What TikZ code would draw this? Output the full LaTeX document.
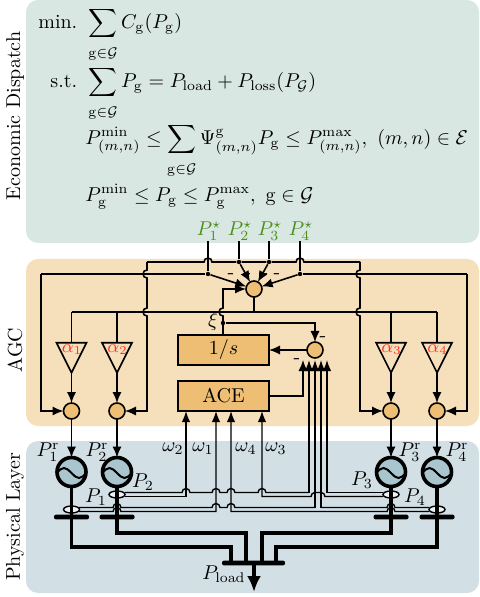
\documentclass[tikz,border=0pt]{standalone}
\usepackage{amsmath}
\usetikzlibrary{arrows.meta,positioning,shapes.geometric}
\definecolor{edpanel}{HTML}{D9E7E2}
\definecolor{agcpanel}{HTML}{F6DFBB}
\definecolor{phypanel}{HTML}{D2E0E6}
\definecolor{blockfill}{HTML}{EDBE73}
\definecolor{genfill}{HTML}{A9C5CE}
\definecolor{setgreen}{HTML}{4D8F1F}
\definecolor{gainred}{HTML}{FF3322}
% bumps where one wire passes over another
\newcommand{\hopr}[2]{-- (#1-4,#2) arc[start angle=180,end angle=0,radius=2pt]}
\newcommand{\hopd}[2]{-- (#1,#2-4) arc[start angle=90,end angle=270,radius=2pt]}
\newcommand{\hopu}[2]{-- (#1,#2+4) arc[start angle=270,end angle=90,radius=2pt]}
\newcommand{\genset}{\rule{0pt}{7pt}\mathrm{g}\in\mathcal{G}}
\tikzset{
  panel/.style={rounded corners=6pt},
  conn/.style={thick},
  arr/.style={thick,-{Latex[length=5.5pt,width=4.6pt]}},
  meas/.style={line width=.7pt},
  measarr/.style={line width=.7pt,-{Latex[length=5.5pt,width=4.2pt]}},
  shaft/.style={line width=1.8pt},
  sumnode/.style={circle,draw,thick,fill=blockfill,minimum size=8pt,inner sep=0pt,outer sep=0pt},
  blocknode/.style={rectangle,draw,thick,fill=blockfill,minimum width=45.5pt,minimum height=15pt,inner sep=0pt,outer sep=0pt},
  dotnode/.style={circle,fill,inner sep=0pt,minimum size=2.2pt},
  gainnode/.style={isosceles triangle,isosceles triangle stretches,shape border rotate=-90,draw,thick,minimum width=15pt,minimum height=15pt,inner sep=0pt,outer sep=0pt},
  gainlabel/.style={text=gainred,font=\small,inner sep=0pt},
  gennode/.style={circle,draw,line width=1.8pt,fill=genfill,minimum size=14.5pt,inner sep=0pt,outer sep=0pt,
    path picture={\draw[line width=1pt] (path picture bounding box.center) ++(-15,1) sin ++(7.5,-5) cos ++(7.5,5) sin ++(7.5,5) cos ++(7.5,-5);}},
  ringnode/.style={ellipse,draw,line width=.7pt,fill=white!55!phypanel,minimum width=8pt,minimum height=3.5pt,inner sep=0pt,outer sep=0pt},
  busnode/.style={rectangle,fill,rounded corners=1pt,minimum width=17.5pt,minimum height=2.4pt,inner sep=0pt,outer sep=0pt},
  minusnode/.style={inner sep=0pt},
  setnode/.style={text=setgreen,inner sep=0pt,anchor=base},
  eqnode/.style={inner sep=0pt,anchor=base west}
}
\begin{document}
\begin{tikzpicture}[x=0.5pt,y=-0.5pt]
  \useasboundingbox (0,0) rectangle (479,597);

  % panels
  \fill[panel,edpanel] (26,0) rectangle (479,243);
  \fill[panel,agcpanel] (26,259) rectangle (479,426);
  \fill[panel,phypanel] (26,441) rectangle (479,593);
  \node[rotate=90] (edname) at (15,116) {Economic Dispatch};
  \node[rotate=90] (agcname) at (15,350) {AGC};
  \node[rotate=90] (phyname) at (15,517) {Physical Layer};

  % dispatch problem
  \node[eqnode] (minl) at (38,29) {min.};
  \node[eqnode] (minf) at (88,29) {$\displaystyle\sum_{\genset} C_{\mathrm{g}}(P_{\mathrm{g}})$};
  \node[eqnode] (stl) at (50,88) {s.t.};
  \node[eqnode] (stf) at (88,88) {$\displaystyle\sum_{\genset} P_{\mathrm{g}} = P_{\mathrm{load}} + P_{\mathrm{loss}}(P_{\mathcal{G}})$};
  \node[eqnode] (lnf) at (85,145) {$\displaystyle P_{(m,n)}^{\mathrm{min}} \leq \sum_{\genset} \Psi_{(m,n)}^{\mathrm{g}} P_{\mathrm{g}} \leq P_{(m,n)}^{\mathrm{max}},\ (m,n)\in\mathcal{E}$};
  \node[eqnode] (gnf) at (85,202) {$\displaystyle P_{\mathrm{g}}^{\mathrm{min}} \leq P_{\mathrm{g}} \leq P_{\mathrm{g}}^{\mathrm{max}},\ \mathrm{g}\in\mathcal{G}$};

  % set points
  \node[setnode] (p1s) at (209,236) {$P_1^\star$};
  \node[setnode] (p2s) at (240,236) {$P_2^\star$};
  \node[setnode] (p3s) at (270,236) {$P_3^\star$};
  \node[setnode] (p4s) at (301,236) {$P_4^\star$};

  % AGC blocks
  \node[sumnode] (st) at (254,289) {};
  \node[sumnode] (sc) at (315,350) {};
  \node[blocknode] (is) at (223.5,350) {$1/s$};
  \node[blocknode] (ace) at (223.5,396) {ACE};
  \node[gainnode] (g1) at (71.5,352) {};
  \node[gainnode] (g2) at (117,352) {};
  \node[gainnode] (g3) at (391,352) {};
  \node[gainnode] (g4) at (437,352) {};
  \node[gainlabel] (a1) at (72,350) {$\alpha_1$};
  \node[gainlabel] (a2) at (117.5,350) {$\alpha_2$};
  \node[gainlabel] (a3) at (391.5,350) {$\alpha_3$};
  \node[gainlabel] (a4) at (437.5,350) {$\alpha_4$};
  \node[sumnode] (s1) at (71.5,411) {};
  \node[sumnode] (s2) at (117,411) {};
  \node[sumnode] (s3) at (391,411) {};
  \node[sumnode] (s4) at (437,411) {};

  \node[dotnode] (d1) at (208,274) {};
  \node[dotnode] (d2) at (239,262) {};
  \node[dotnode] (d3) at (269,262) {};
  \node[dotnode] (d4) at (300,274) {};
  \node[dotnode] (dx) at (223,323) {};
  \node (xi) at (213,322) {$\xi$};

  \coordinate (k1) at (147,262);
  \coordinate (k2) at (360,262);
  \coordinate (k3) at (41,274);
  \coordinate (k4) at (467,274);
  \coordinate (r1) at (71.5,312);
  \coordinate (r2) at (117,312);
  \coordinate (r3) at (391,312);
  \coordinate (r4) at (437,312);
  \coordinate (i1) at (223,335);
  \coordinate (i2) at (223,289);
  \coordinate (t1) at (303,360);
  \coordinate (t2) at (309,360);
  \coordinate (t3) at (315,360);
  \coordinate (t4) at (321,360);
  \coordinate (t5) at (327,360);

  \draw[conn] (d1 |- p1s.south) -- (d1);
  \draw[conn] (d2 |- p2s.south) -- (d2);
  \draw[conn] (d3 |- p3s.south) -- (d3);
  \draw[conn] (d4 |- p4s.south) -- (d4);
  \draw[conn] (k1) \hopr{208}{262} -- (d2) -- (d3) \hopr{300}{262} -- (k2);
  \draw[conn] (k3) -- (d1);
  \draw[conn] (d4) -- (k4);
  \draw[conn] (r1) -- (r4);
  \draw[arr] (d1) -- (st);
  \draw[arr] (d2) -- (st);
  \draw[arr] (d3) -- (st);
  \draw[arr] (d4) -- (st);
  \draw[conn] (st) -- (st |- r1);
  \draw[arr] (i1) \hopu{223}{312} -- (i2) -- (st);
  \draw[arr] (dx) -| (sc);
  \draw[arr] (sc) -- (is);
  \draw[arr] (k1) \hopd{147}{274} \hopd{147}{312} -- (k1 |- s2) -- (s2);
  \draw[arr] (k2) \hopd{360}{274} \hopd{360}{312} -- (k2 |- s3) -- (s3);
  \draw[arr] (k3) -- (k3 |- s1) -- (s1);
  \draw[arr] (k4) -- (k4 |- s4) -- (s4);
  \draw[conn] (r1) -- (g1.north);
  \draw[conn] (r2) -- (g2.north);
  \draw[conn] (r3) -- (g3.north);
  \draw[conn] (r4) -- (g4.north);
  \draw[arr] (g1.south) -- (s1);
  \draw[arr] (g2.south) -- (s2);
  \draw[arr] (g3.south) -- (s3);
  \draw[arr] (g4.south) -- (s4);
  \draw[arr] (ace.east) -| (t1);

  \node[minusnode] (m1) at (231,276) {-};
  \node[minusnode] (m2) at (248,276) {-};
  \node[minusnode] (m3) at (265,276) {-};
  \node[minusnode] (m4) at (277,276) {-};
  \node[minusnode] (m5) at (323,339) {-};
  \node[minusnode] (m6) at (297,361) {-};

  % physical layer
  \node[ringnode] (e1) at (71.5,509.5) {};
  \node[ringnode] (e2) at (117,494.5) {};
  \node[ringnode] (e3) at (391,494.5) {};
  \node[ringnode] (e4) at (437,509.5) {};
  \node[gennode] (m) at (71.5,472) {};
  \node[gennode] (n) at (117,472) {};
  \node[gennode] (o) at (391,472) {};
  \node[gennode] (q) at (437,472) {};
  \node[busnode] (b1) at (71.5,517) {};
  \node[busnode] (b2) at (117,517) {};
  \node[busnode] (b3) at (391,517) {};
  \node[busnode] (b4) at (437,517) {};
  \node[busnode,minimum width=31.5pt] (lb) at (253.5,563) {};

  \coordinate (l1) at (231,547);
  \coordinate (l2) at (246,533);
  \coordinate (l3) at (262,533);
  \coordinate (l4) at (276,547);
  \coordinate (le) at (254,592);

  \draw[shaft] (m.south) |- (l1) -- (l1 |- lb);
  \draw[shaft] (n.south) |- (l2) -- (l2 |- lb);
  \draw[shaft] (o.south) |- (l3) -- (l3 |- lb);
  \draw[shaft] (q.south) |- (l4) -- (l4 |- lb);
  \draw[shaft,-{Latex[length=8pt,width=7pt]}] (le |- lb) -- (le);

  \draw[arr] (s1) -- (m);
  \draw[arr] (s2) -- (n);
  \draw[arr] (s3) -- (o);
  \draw[arr] (s4) -- (q);

  \coordinate (p2a) at (125,492.5);
  \coordinate (p2b) at (125,496.5);
  \coordinate (p3a) at (383,492.5);
  \coordinate (p3b) at (383,496.5);
  \coordinate (p1a) at (79,507.5);
  \coordinate (p1b) at (79,511.5);
  \coordinate (p4a) at (429,507.5);
  \coordinate (p4b) at (429,511.5);
  \coordinate (w2) at (186,496.5);
  \coordinate (w1) at (216,511.5);
  \coordinate (w4) at (231,511.5);
  \coordinate (w3) at (262,496.5);

  \draw[meas] (p2a) \hopr{186}{492.5} \hopr{216}{492.5} \hopr{231}{492.5} \hopr{262}{492.5} -- (309,492.5);
  \draw[measarr] (309,492.5) -- (t2);
  \draw[meas] (p3a) -- (327,492.5);
  \draw[measarr] (327,492.5) -- (t5);
  \draw[meas] (p1a) \hopr{117}{507.5} \hopr{216}{507.5} \hopr{231}{507.5} -- (315,507.5);
  \draw[measarr] (315,507.5) -- (t3);
  \draw[meas] (p4a) -- (395,507.5) arc[start angle=0,end angle=180,radius=2pt] -- (321,507.5);
  \draw[measarr] (321,507.5) -- (t4);
  \draw[measarr] (p2b) -- (w2) -- (w2 |- ace.south);
  \draw[measarr] (p1b) \hopr{117}{511.5} -- (w1) -- (w1 |- ace.south);
  \draw[measarr] (p4b) -- (395,511.5) arc[start angle=0,end angle=180,radius=2pt] -- (w4) -- (w4 |- ace.south);
  \draw[measarr] (p3b) -- (325,496.5) arc[start angle=0,end angle=90,radius=2pt] -- (315,492.5) arc[start angle=90,end angle=180,radius=2pt] -- (w3) -- (w3 |- ace.south);

  % labels
  \node (lp1r) at (48,452) {$P_1^{\mathrm{r}}$};
  \node (lp2r) at (97,452) {$P_2^{\mathrm{r}}$};
  \node (lp3r) at (410,452) {$P_3^{\mathrm{r}}$};
  \node (lp4r) at (457,452) {$P_4^{\mathrm{r}}$};
  \node (lp1) at (96,497) {$P_1$};
  \node (lp2) at (143,482) {$P_2$};
  \node (lp3) at (362,480) {$P_3$};
  \node (lp4) at (415,497) {$P_4$};
  \node (lo2) at (173,449) {$\omega_2$};
  \node (lo1) at (203,449) {$\omega_1$};
  \node (lo4) at (246,449) {$\omega_4$};
  \node (lo3) at (276,449) {$\omega_3$};
  \node (lload) at (224,574) {$P_{\mathrm{load}}$};
\end{tikzpicture}
\end{document}
